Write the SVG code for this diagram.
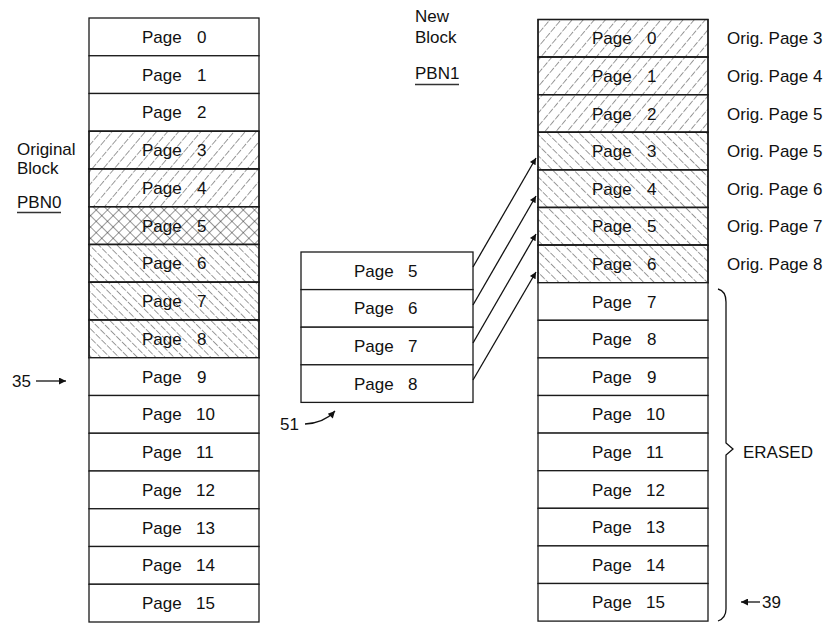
<svg xmlns="http://www.w3.org/2000/svg" width="831" height="624" viewBox="0 0 831 624">
<defs>
<pattern id="fwd" patternUnits="userSpaceOnUse" width="8.5" height="8" patternTransform="rotate(40)"><line x1="0" y1="0" x2="0" y2="8" stroke="#1a1a1a" stroke-width="0.9" stroke-dasharray="6.5 1.5"/></pattern>
<pattern id="bwdL" patternUnits="userSpaceOnUse" width="6.5" height="8" patternTransform="rotate(-45)"><line x1="0" y1="0" x2="0" y2="8" stroke="#1a1a1a" stroke-width="0.9" stroke-dasharray="6.5 1.5"/></pattern>
<pattern id="bwdR" patternUnits="userSpaceOnUse" width="7.5" height="8" patternTransform="rotate(-45)"><line x1="0" y1="0" x2="0" y2="8" stroke="#1a1a1a" stroke-width="0.9" stroke-dasharray="6.5 1.5"/></pattern>
<pattern id="cross" patternUnits="userSpaceOnUse" width="8" height="8" patternTransform="rotate(45)"><line x1="0" y1="0" x2="0" y2="8" stroke="#1a1a1a" stroke-width="0.9"/><line x1="0" y1="0" x2="8" y2="0" stroke="#1a1a1a" stroke-width="0.9"/></pattern>
<marker id="ah" viewBox="0 0 10 10" refX="10" refY="5" markerWidth="10" markerHeight="6.5" markerUnits="userSpaceOnUse" orient="auto"><path d="M0,0 L10,5 L0,10 z" fill="#111"/></marker>
<marker id="ahs" viewBox="0 0 10 10" refX="10" refY="5" markerWidth="11" markerHeight="7" markerUnits="userSpaceOnUse" orient="auto"><path d="M0,0 L10,5 L0,10 z" fill="#111"/></marker>
</defs>
<style>
.cell{fill:#fff;stroke:#1a1a1a;stroke-width:1.3}
.f{fill:url(#fwd)}
.bl{fill:url(#bwdL)}
.br{fill:url(#bwdR)}
.x{fill:url(#cross)}
text{font-family:"Liberation Sans",Arial,sans-serif;font-size:17px;fill:#111}
.conn{stroke:#111;stroke-width:1.3;fill:none}
.ul{stroke:#333;stroke-width:1.3}
</style>

<g id="original-block">
<rect class="cell" x="89" y="18" width="170" height="37.75"/><text x="142" y="42.9">Page<tspan x="197">0</tspan></text>
<rect class="cell" x="89" y="55.75" width="170" height="37.75"/><text x="142" y="80.6">Page<tspan x="197">1</tspan></text>
<rect class="cell" x="89" y="93.5" width="170" height="37.75"/><text x="142" y="118.4">Page<tspan x="197">2</tspan></text>
<rect class="cell" x="89" y="131.25" width="170" height="37.75"/><rect class="f" x="89" y="131.25" width="170" height="37.75"/><rect class="cell" style="fill:none" x="89" y="131.25" width="170" height="37.75"/><text x="142" y="156.1">Page<tspan x="197">3</tspan></text>
<rect class="cell" x="89" y="169" width="170" height="37.75"/><rect class="f" x="89" y="169" width="170" height="37.75"/><rect class="cell" style="fill:none" x="89" y="169" width="170" height="37.75"/><text x="142" y="193.9">Page<tspan x="197">4</tspan></text>
<rect class="cell" x="89" y="206.75" width="170" height="37.75"/><rect class="x" x="89" y="206.75" width="170" height="37.75"/><rect class="cell" style="fill:none" x="89" y="206.75" width="170" height="37.75"/><text x="142" y="231.6">Page<tspan x="197">5</tspan></text>
<rect class="cell" x="89" y="244.5" width="170" height="37.75"/><rect class="bl" x="89" y="244.5" width="170" height="37.75"/><rect class="cell" style="fill:none" x="89" y="244.5" width="170" height="37.75"/><text x="142" y="269.4">Page<tspan x="197">6</tspan></text>
<rect class="cell" x="89" y="282.25" width="170" height="37.75"/><rect class="bl" x="89" y="282.25" width="170" height="37.75"/><rect class="cell" style="fill:none" x="89" y="282.25" width="170" height="37.75"/><text x="142" y="307.1">Page<tspan x="197">7</tspan></text>
<rect class="cell" x="89" y="320" width="170" height="37.75"/><rect class="bl" x="89" y="320" width="170" height="37.75"/><rect class="cell" style="fill:none" x="89" y="320" width="170" height="37.75"/><text x="142" y="344.9">Page<tspan x="197">8</tspan></text>
<rect class="cell" x="89" y="357.75" width="170" height="37.75"/><text x="142" y="382.6">Page<tspan x="197">9</tspan></text>
<rect class="cell" x="89" y="395.5" width="170" height="37.75"/><text x="142" y="420.4">Page<tspan x="196">10</tspan></text>
<rect class="cell" x="89" y="433.25" width="170" height="37.75"/><text x="142" y="458.1">Page<tspan x="196">11</tspan></text>
<rect class="cell" x="89" y="471" width="170" height="37.75"/><text x="142" y="495.9">Page<tspan x="196">12</tspan></text>
<rect class="cell" x="89" y="508.75" width="170" height="37.75"/><text x="142" y="533.6">Page<tspan x="196">13</tspan></text>
<rect class="cell" x="89" y="546.5" width="170" height="37.75"/><text x="142" y="571.4">Page<tspan x="196">14</tspan></text>
<rect class="cell" x="89" y="584.25" width="170" height="37.75"/><text x="142" y="609.1">Page<tspan x="196">15</tspan></text>
</g>

<g id="original-label">
<text x="17" y="155">Original</text>
<text x="17" y="174">Block</text>
<text x="17" y="208">PBN0</text>
<line class="ul" x1="17" y1="212.5" x2="61" y2="212.5"/>
</g>

<g id="new-label">
<text x="415" y="22">New</text>
<text x="415" y="43">Block</text>
<text x="415" y="79">PBN1</text>
<line class="ul" x1="415" y1="84.5" x2="459" y2="84.5"/>
</g>

<g id="buffer-block">
<rect class="cell" x="301" y="252" width="172" height="37.6"/><text x="354" y="276.8">Page<tspan x="408">5</tspan></text>
<rect class="cell" x="301" y="289.6" width="172" height="37.6"/><text x="354" y="314.4">Page<tspan x="408">6</tspan></text>
<rect class="cell" x="301" y="327.2" width="172" height="37.6"/><text x="354" y="352">Page<tspan x="408">7</tspan></text>
<rect class="cell" x="301" y="364.8" width="172" height="37.6"/><text x="354" y="389.6">Page<tspan x="408">8</tspan></text>
</g>

<g id="new-block">
<rect class="cell" x="538" y="19.5" width="170" height="37.6"/><rect class="f" x="538" y="19.5" width="170" height="37.6"/><rect class="cell" style="fill:none" x="538" y="19.5" width="170" height="37.6"/><text x="592" y="44.3">Page<tspan x="647">0</tspan></text>
<rect class="cell" x="538" y="57.1" width="170" height="37.6"/><rect class="f" x="538" y="57.1" width="170" height="37.6"/><rect class="cell" style="fill:none" x="538" y="57.1" width="170" height="37.6"/><text x="592" y="81.9">Page<tspan x="647">1</tspan></text>
<rect class="cell" x="538" y="94.7" width="170" height="37.6"/><rect class="f" x="538" y="94.7" width="170" height="37.6"/><rect class="cell" style="fill:none" x="538" y="94.7" width="170" height="37.6"/><text x="592" y="119.5">Page<tspan x="647">2</tspan></text>
<rect class="cell" x="538" y="132.3" width="170" height="37.6"/><rect class="br" x="538" y="132.3" width="170" height="37.6"/><rect class="cell" style="fill:none" x="538" y="132.3" width="170" height="37.6"/><text x="592" y="157.1">Page<tspan x="647">3</tspan></text>
<rect class="cell" x="538" y="169.9" width="170" height="37.6"/><rect class="br" x="538" y="169.9" width="170" height="37.6"/><rect class="cell" style="fill:none" x="538" y="169.9" width="170" height="37.6"/><text x="592" y="194.7">Page<tspan x="647">4</tspan></text>
<rect class="cell" x="538" y="207.5" width="170" height="37.6"/><rect class="br" x="538" y="207.5" width="170" height="37.6"/><rect class="cell" style="fill:none" x="538" y="207.5" width="170" height="37.6"/><text x="592" y="232.3">Page<tspan x="647">5</tspan></text>
<rect class="cell" x="538" y="245.1" width="170" height="37.6"/><rect class="br" x="538" y="245.1" width="170" height="37.6"/><rect class="cell" style="fill:none" x="538" y="245.1" width="170" height="37.6"/><text x="592" y="269.9">Page<tspan x="647">6</tspan></text>
<rect class="cell" x="538" y="282.7" width="170" height="37.6"/><text x="592" y="307.5">Page<tspan x="647">7</tspan></text>
<rect class="cell" x="538" y="320.3" width="170" height="37.6"/><text x="592" y="345.1">Page<tspan x="647">8</tspan></text>
<rect class="cell" x="538" y="357.9" width="170" height="37.6"/><text x="592" y="382.7">Page<tspan x="647">9</tspan></text>
<rect class="cell" x="538" y="395.5" width="170" height="37.6"/><text x="592" y="420.3">Page<tspan x="646">10</tspan></text>
<rect class="cell" x="538" y="433.1" width="170" height="37.6"/><text x="592" y="457.9">Page<tspan x="646">11</tspan></text>
<rect class="cell" x="538" y="470.7" width="170" height="37.6"/><text x="592" y="495.5">Page<tspan x="646">12</tspan></text>
<rect class="cell" x="538" y="508.3" width="170" height="37.6"/><text x="592" y="533.1">Page<tspan x="646">13</tspan></text>
<rect class="cell" x="538" y="545.9" width="170" height="37.6"/><text x="592" y="570.7">Page<tspan x="646">14</tspan></text>
<rect class="cell" x="538" y="583.5" width="170" height="37.6"/><text x="592" y="608.3">Page<tspan x="646">15</tspan></text>
</g>

<g id="orig-labels">
<text x="727" y="44.3">Orig. Page 3</text>
<text x="727" y="81.9">Orig. Page 4</text>
<text x="727" y="119.5">Orig. Page 5</text>
<text x="727" y="157.1">Orig. Page 5</text>
<text x="727" y="194.7">Orig. Page 6</text>
<text x="727" y="232.3">Orig. Page 7</text>
<text x="727" y="269.9">Orig. Page 8</text>
</g>

<g id="erased-label">
<path class="conn" d="M718,289 Q726,291 726,302 L726,443 L733,449 L726,455 L726,609 Q726,618 718,621"/>
<text x="743" y="458">ERASED</text>
</g>

<g id="ref-35"><text x="12" y="387">35</text></g>
<g id="ref-51"><text x="280" y="430">51</text></g>
<g id="ref-39"><text x="762" y="608">39</text></g>

<g id="connectors">
<line class="conn" x1="473" y1="267" x2="536" y2="158" marker-end="url(#ah)"/>
<line class="conn" x1="473" y1="305" x2="536" y2="196" marker-end="url(#ah)"/>
<line class="conn" x1="473" y1="343" x2="536" y2="234" marker-end="url(#ah)"/>
<line class="conn" x1="473" y1="380" x2="536" y2="272" marker-end="url(#ah)"/>
<line class="conn" x1="36" y1="381" x2="66" y2="381" marker-end="url(#ahs)"/>
<path class="conn" d="M305,424 Q324,423 335,411" marker-end="url(#ahs)"/>
<line class="conn" x1="760" y1="602" x2="741" y2="602" marker-end="url(#ahs)"/>
</g>
</svg>
